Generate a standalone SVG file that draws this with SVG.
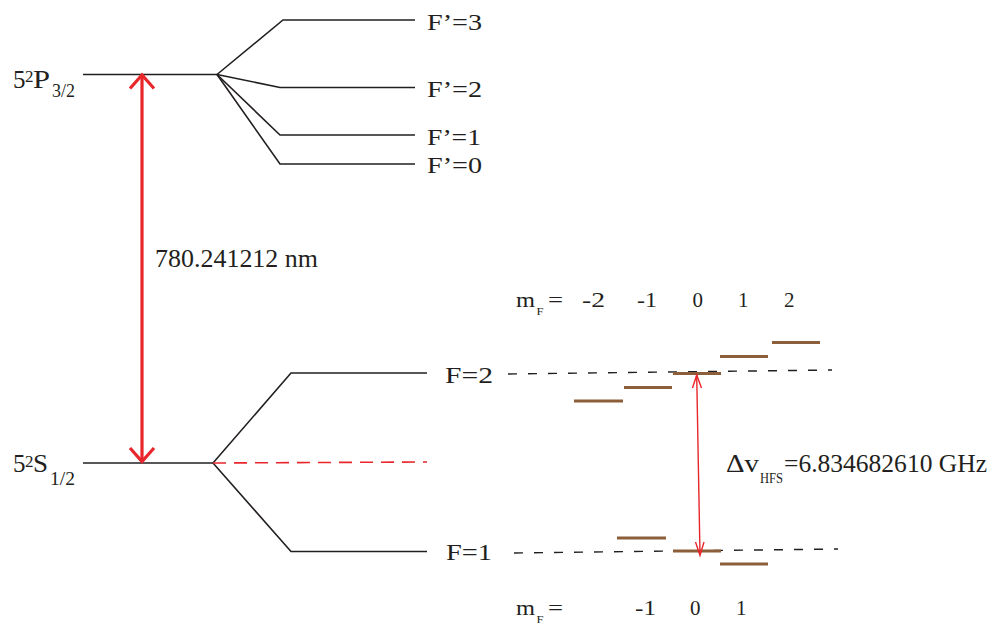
<svg xmlns="http://www.w3.org/2000/svg" width="997" height="628" viewBox="0 0 997 628">
<defs>
<style>
text{fill:#231f20}
.lv{stroke:#231f20;stroke-width:1.6;fill:none}
.dash{stroke:#231f20;stroke-width:1.4;stroke-dasharray:9 11;fill:none}
.rdash{stroke:#e8262b;stroke-width:1.6;stroke-dasharray:13 8;fill:none}
.bar{stroke:#8c5f3a;stroke-width:3.2;fill:none}
.big{stroke:#e8262b;stroke-width:3.2;fill:none}
.thin{stroke:#e8262b;stroke-width:1.4;fill:none}
</style>
</defs>
<rect width="997" height="628" fill="#fff"/>
<g font-family="Liberation Serif, Times New Roman, DejaVu Serif, serif">
<g id="P32">
<line class="lv" x1="83" y1="74.5" x2="217" y2="74.5"/>
<text font-size="25" x="13" y="87.5">5</text><text font-size="17" x="25" y="82">2</text><text font-size="25" x="33" y="87.5" textLength="17" lengthAdjust="spacingAndGlyphs">P</text><text font-size="18" x="52" y="97" textLength="23" lengthAdjust="spacingAndGlyphs">3/2</text>
</g>
<g id="Fp3"><polyline class="lv" points="217,74.5 283,20 415,20"/><text font-size="23" x="427" y="29.5" textLength="55" lengthAdjust="spacingAndGlyphs">F’=3</text></g>
<g id="Fp2"><polyline class="lv" points="217,74.5 280,87.5 415,87.5"/><text font-size="23" x="427" y="96.7" textLength="55" lengthAdjust="spacingAndGlyphs">F’=2</text></g>
<g id="Fp1"><polyline class="lv" points="217,74.5 280,135 415,135"/><text font-size="23" x="427" y="144.5" textLength="54" lengthAdjust="spacingAndGlyphs">F’=1</text></g>
<g id="Fp0"><polyline class="lv" points="217,74.5 280,164 415,164"/><text font-size="23" x="427" y="173" textLength="55" lengthAdjust="spacingAndGlyphs">F’=0</text></g>

<g id="S12">
<line class="lv" x1="83" y1="463" x2="213" y2="463"/>
<text font-size="25" x="13" y="472">5</text><text font-size="17" x="25" y="466.5">2</text><text font-size="25" x="33" y="472" textLength="15" lengthAdjust="spacingAndGlyphs">S</text><text font-size="18" x="50" y="485" textLength="25" lengthAdjust="spacingAndGlyphs">1/2</text>
</g>
<g id="F2"><polyline class="lv" points="213,463 291,373 427,373"/><text font-size="23" x="445" y="383.3" textLength="48" lengthAdjust="spacingAndGlyphs">F=2</text></g>
<g id="F1"><polyline class="lv" points="213,463 291,551.5 427,551.5"/><text font-size="23" x="446" y="560" textLength="46" lengthAdjust="spacingAndGlyphs">F=1</text></g>

<g id="F2sub">
<line class="dash" x1="508" y1="374" x2="832" y2="370"/>
<line class="bar" x1="574" y1="401" x2="623" y2="401"/>
<line class="bar" x1="624" y1="387.5" x2="672" y2="387.5"/>
<line class="bar" x1="673" y1="373.5" x2="721" y2="373.5"/>
<line class="bar" x1="720" y1="356.5" x2="768" y2="356.5"/>
<line class="bar" x1="772" y1="342.5" x2="820" y2="342.5"/>
<text font-size="21" x="516" y="306.7" textLength="19" lengthAdjust="spacingAndGlyphs">m</text><text font-size="11" x="536.5" y="315" textLength="7" lengthAdjust="spacingAndGlyphs">F</text><text font-size="21" x="548" y="306.7" textLength="15" lengthAdjust="spacingAndGlyphs">=</text>
<text font-size="21" x="582" y="306.7" textLength="23" lengthAdjust="spacingAndGlyphs">-2</text><text font-size="21" x="637" y="306.7" textLength="20" lengthAdjust="spacingAndGlyphs">-1</text><text font-size="21" x="692.5" y="306.7">0</text><text font-size="21" x="738" y="306.7">1</text><text font-size="21" x="784" y="306.7">2</text>
</g>

<g id="F1sub">
<line class="dash" x1="514" y1="553" x2="838" y2="549"/>
<line class="bar" x1="617" y1="538" x2="666" y2="538"/>
<line class="bar" x1="673" y1="551" x2="721" y2="551"/>
<line class="bar" x1="720" y1="564" x2="768" y2="564"/>
<text font-size="21" x="516" y="615" textLength="19" lengthAdjust="spacingAndGlyphs">m</text><text font-size="11" x="536.5" y="623" textLength="7" lengthAdjust="spacingAndGlyphs">F</text><text font-size="21" x="548" y="615" textLength="15" lengthAdjust="spacingAndGlyphs">=</text>
<text font-size="21" x="635" y="615" textLength="21" lengthAdjust="spacingAndGlyphs">-1</text><text font-size="21" x="690" y="615">0</text><text font-size="21" x="736" y="615">1</text>
</g>

<g id="connectors">
<line class="rdash" x1="213" y1="463" x2="427" y2="462"/>
<line class="big" x1="142" y1="75" x2="142" y2="461"/>
<polyline class="big" points="130,88.5 142,75 154,88.5"/>
<polyline class="big" points="130,448 142,461.5 154,448"/>
<line class="thin" x1="696.7" y1="375" x2="700" y2="555"/>
<polyline class="thin" points="692.5,388 696.7,375 701.5,388"/>
<polyline class="thin" points="695.5,542 700,555.5 704,542"/>
</g>

<g id="labels">
<text font-size="25" x="155" y="266.5" textLength="163" lengthAdjust="spacingAndGlyphs">780.241212 nm</text>
<text font-size="26" x="726" y="472" textLength="33" lengthAdjust="spacingAndGlyphs">Δv</text><text font-size="14" x="760" y="483" textLength="23" lengthAdjust="spacingAndGlyphs">HFS</text><text font-size="26" x="784" y="472" textLength="203" lengthAdjust="spacingAndGlyphs">=6.834682610 GHz</text>
</g>
</g>
</svg>
